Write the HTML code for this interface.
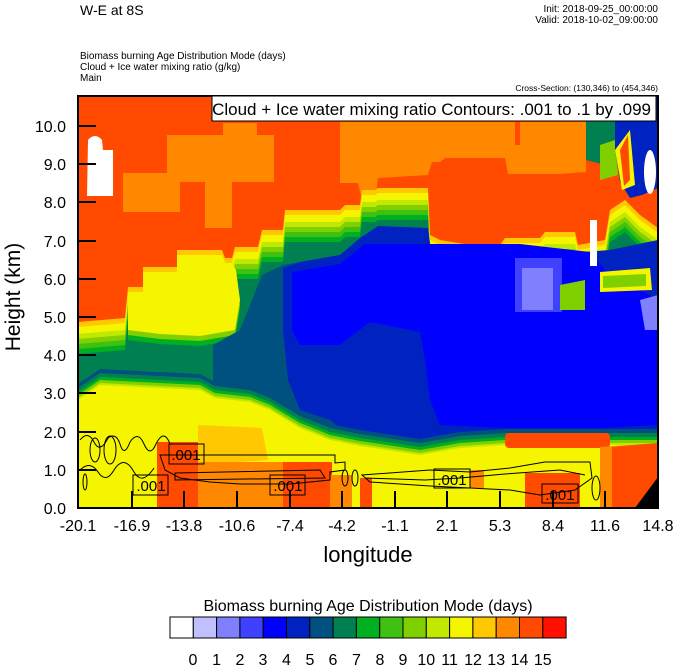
<!DOCTYPE html>
<html><head><meta charset="utf-8"><style>
html,body{margin:0;padding:0;background:#fff;}
svg text{font-family:"Liberation Sans",sans-serif;}
</style></head><body>
<svg width="674" height="667" viewBox="0 0 674 667" xmlns="http://www.w3.org/2000/svg">
<defs>
<clipPath id="pc"><rect x="78" y="96" width="580" height="412"/></clipPath>
<polygon id="U" points="78,322 125,318 128,287 143,287 143,267 177,267 177,250 222,250 225,258 232,258 235,247 258,247 262,230 283,230 285,210 340,210 345,205 360,205 362,190 375,190 378,188 428,188 430,235 440,240 470,245 500,245 505,238 540,238 545,232 575,232 578,245 605,240 610,210 625,200 640,215 658,228 658,508 78,508"/>
<polygon id="B" points="78,400 100,385 200,390 215,398 250,402 270,410 300,428 330,440 360,446 420,455 460,448 505,445 658,445 658,508 78,508"/>
<polygon id="Y" points="128,292 143,292 143,272 177,272 177,255 222,255 225,263 232,263 236,270 240,300 235,330 200,336 160,334 128,330"/>
</defs>
<g clip-path="url(#pc)">
<rect x="78" y="96" width="580" height="412" fill="#ff4a00"/>
<polygon fill="#ff8800" points="123,173 167,173 167,135 223,135 223,123 257,123 257,135 274,135 274,182 232,182 232,228 205,228 205,182 180,182 180,212 123,212"/>
<polygon fill="#ff8800" points="340,122 515,122 515,145 520,145 520,122 586,122 586,172 560,174 508,174 505,158 445,158 440,162 432,162 428,175 378,178 375,200 362,200 358,183 340,183"/>
<use href="#U" fill="#ffc800"/>
<use href="#U" fill="#f5f500" y="5"/>
<use href="#U" fill="#c0e800" y="12"/>
<use href="#U" fill="#80d000" y="17"/>
<use href="#U" fill="#40c010" y="22"/>
<use href="#U" fill="#00b020" y="27"/>
<use href="#U" fill="#008050" y="32"/>
<!-- thick yellow left-middle -->
<use href="#Y" fill="#00b020" y="10"/>
<use href="#Y" fill="#80d000" y="5"/>
<use href="#Y" fill="#f5f500"/>
<polygon fill="#005080" points="213,345 240,330 262,275 283,265 300,262 340,255 360,240 378,228 430,262 500,262 610,255 658,250 658,508 213,508"/>
<polygon fill="#0022c0" points="283,268 300,262 340,255 360,238 378,226 428,228 432,258 500,258 610,250 658,240 658,440 640,430 610,433 506,433 470,435 440,440 420,445 380,440 360,430 345,432 330,420 300,410 288,380 283,330"/>
<polygon fill="#0000ff" points="292,272 340,264 365,244 520,244 590,252 605,270 658,300 658,425 600,428 506,428 440,425 430,400 425,360 420,332 370,322 340,345 300,345 292,330"/>
<polygon fill="#4040ff" points="515,258 562,258 562,312 515,312"/>
<polygon fill="#8080ff" points="522,268 553,268 553,310 522,310"/>
<polygon fill="#8080ff" points="640,300 658,295 658,330 645,330"/>
<polygon fill="#80d000" points="560,285 585,280 585,310 560,310"/>
<polygon fill="#f5f500" points="600,272 650,268 652,290 600,292"/>
<polygon fill="#80d000" points="603,276 646,274 646,286 603,288"/>
<rect x="590" y="220" width="7" height="46" fill="#fff"/>
<polygon fill="#008050" points="586,96 620,96 620,150 605,165 586,160"/>
<polygon fill="#80d000" points="600,145 615,140 618,175 600,180"/>
<polygon fill="#0022c0" points="615,96 658,96 658,188 642,195 630,198 620,182 615,150"/>
<polygon fill="#f5f500" points="615,150 630,130 635,185 622,190"/>
<polygon fill="#ff4a00" points="620,150 628,135 630,180 624,186"/>
<ellipse cx="650" cy="172" rx="6" ry="22" fill="#fff"/>
<!-- bottom yellow region -->
<use href="#B" fill="#005080" y="-16"/>
<use href="#B" fill="#008050" y="-12"/>
<use href="#B" fill="#00b020" y="-8"/>
<use href="#B" fill="#80d000" y="-5"/>
<use href="#B" fill="#c0e800" y="-2"/>
<use href="#B" fill="#f5f500"/>
<polygon fill="#ffc800" points="198,425 262,428 268,460 198,465"/>
<polygon fill="#ff4a00" points="157,442 198,442 198,508 157,508"/>
<polygon fill="#ff8800" points="198,462 285,462 285,508 198,508"/>
<polygon fill="#ff4a00" points="283,462 332,462 332,508 283,508"/>
<polygon fill="#ff8800" points="330,475 352,475 352,508 330,508"/>
<rect x="360" y="478" width="12" height="30" fill="#ff4a00"/>
<rect x="470" y="470" width="14" height="18" fill="#ff8800"/>
<polygon fill="#ff4a00" points="525,473 580,473 580,508 525,508"/>
<rect x="505" y="433" width="105" height="15" rx="4" fill="#ff4a00"/>
<polygon fill="#ff8800" points="600,447 658,443 658,508 600,508"/>
<polygon fill="#ff4a00" points="612,447 658,443 658,508 612,508"/>
<polygon fill="#000" points="635,508 658,477 658,508"/>
<path d="M88,140 Q95,132 102,140 L103,150 L113,150 L113,196 L87,196 Z" fill="#fff"/>
<g fill="none" stroke="#000" stroke-width="1">
<path d="M80,440 q8,-10 14,2 q6,12 14,-4 q8,-6 12,6 q4,14 10,-2 q8,-12 14,2 q6,14 12,0 q8,-16 14,0 M80,470 q10,-10 18,2 q8,12 16,-2 q10,-16 20,2 q8,14 20,-4"/>
<ellipse cx="85" cy="482" rx="2" ry="8"/>
<ellipse cx="95" cy="450" rx="5" ry="12"/>
<ellipse cx="110" cy="450" rx="6" ry="14"/>
<path d="M160,455 L335,455 L335,463 L345,462 L345,470 L330,472 L330,480 L290,484 L240,484 L210,482 L180,478 L165,470 Z"/>
<path d="M175,473 L320,470 L325,478 L175,480 Z"/>
<path d="M362,475 L430,470 L470,472 L510,468 L545,462 L590,462 L592,478 L575,490 L540,495 L510,490 L470,488 L430,486 L370,482 Z"/>
<path d="M365,478 L425,480 L460,478 L505,474 L560,470 L585,475"/>
<ellipse cx="596" cy="488" rx="4" ry="12"/>
<ellipse cx="345" cy="478" rx="3" ry="8"/>
<ellipse cx="355" cy="478" rx="3" ry="8"/>
</g>
</g>
<g font-size="15" text-anchor="middle">
<rect x="169" y="444" width="35" height="20" fill="none" stroke="#000"/><text x="186" y="460">.001</text>
<rect x="133" y="475" width="35" height="20" fill="none" stroke="#000"/><text x="151" y="491">.001</text>
<rect x="270" y="475" width="35" height="20" fill="none" stroke="#000"/><text x="288" y="491">.001</text>
<rect x="434" y="469" width="36" height="19" fill="none" stroke="#000"/><text x="452" y="485">.001</text>
<rect x="542" y="484" width="36" height="19" fill="none" stroke="#000"/><text x="560" y="500">.001</text>
</g>
<rect x="78" y="96" width="580" height="412" fill="none" stroke="#000" stroke-width="2"/>
<g stroke="#000" stroke-width="2">
<line x1="78" y1="126" x2="96" y2="126"/><line x1="78" y1="164" x2="96" y2="164"/><line x1="78" y1="202" x2="96" y2="202"/><line x1="78" y1="241" x2="96" y2="241"/><line x1="78" y1="279" x2="96" y2="279"/><line x1="78" y1="317" x2="96" y2="317"/><line x1="78" y1="355" x2="96" y2="355"/><line x1="78" y1="393" x2="96" y2="393"/><line x1="78" y1="432" x2="96" y2="432"/><line x1="78" y1="470" x2="96" y2="470"/>
<line x1="132" y1="508" x2="132" y2="491"/><line x1="184" y1="508" x2="184" y2="491"/><line x1="237" y1="508" x2="237" y2="491"/><line x1="290" y1="508" x2="290" y2="491"/><line x1="342" y1="508" x2="342" y2="491"/><line x1="395" y1="508" x2="395" y2="491"/><line x1="447" y1="508" x2="447" y2="491"/><line x1="500" y1="508" x2="500" y2="491"/><line x1="553" y1="508" x2="553" y2="491"/><line x1="605" y1="508" x2="605" y2="491"/>
</g>
<rect x="212" y="96" width="444" height="25" fill="#fff" stroke="#000" stroke-width="1"/>
<text x="651" y="115" font-size="17" text-anchor="end">Cloud + Ice water mixing ratio Contours: .001 to .1 by .099</text>
<g font-size="16" text-anchor="end">
<text x="66" y="132">10.0</text><text x="66" y="170">9.0</text><text x="66" y="208">8.0</text><text x="66" y="247">7.0</text><text x="66" y="285">6.0</text><text x="66" y="323">5.0</text><text x="66" y="361">4.0</text><text x="66" y="399">3.0</text><text x="66" y="438">2.0</text><text x="66" y="476">1.0</text><text x="66" y="514">0.0</text>
</g>
<g font-size="16" text-anchor="middle">
<text x="78" y="531">-20.1</text><text x="132" y="531">-16.9</text><text x="184" y="531">-13.8</text><text x="237" y="531">-10.6</text><text x="290" y="531">-7.4</text><text x="342" y="531">-4.2</text><text x="395" y="531">-1.1</text><text x="447" y="531">2.1</text><text x="500" y="531">5.3</text><text x="553" y="531">8.4</text><text x="605" y="531">11.6</text><text x="658" y="531">14.8</text>
</g>
<text x="368" y="562" font-size="22" text-anchor="middle">longitude</text>
<text transform="translate(20,297) rotate(-90)" font-size="21" text-anchor="middle">Height (km)</text>
<text x="80" y="15" font-size="14">W-E at 8S</text>
<g font-size="10" text-anchor="end"><text x="658" y="12">Init: 2018-09-25_00:00:00</text><text x="658" y="23">Valid: 2018-10-02_09:00:00</text><text x="658" y="91" font-size="8.5">Cross-Section: (130,346) to (454,346)</text></g>
<g font-size="10"><text x="80" y="59">Biomass burning Age Distribution Mode   (days)</text><text x="80" y="70">Cloud + Ice water mixing ratio   (g/kg)</text><text x="80" y="81">Main</text></g>
<text x="368" y="611" font-size="16" text-anchor="middle">Biomass burning Age Distribution Mode  (days)</text>
<g stroke="#000" stroke-width="1">
<rect x="170" y="617" width="23.3" height="21" fill="#fff"/>
<rect x="193.3" y="617" width="23.3" height="21" fill="#c0c0ff"/>
<rect x="216.6" y="617" width="23.3" height="21" fill="#8080ff"/>
<rect x="239.9" y="617" width="23.3" height="21" fill="#4040ff"/>
<rect x="263.2" y="617" width="23.3" height="21" fill="#0000ff"/>
<rect x="286.5" y="617" width="23.3" height="21" fill="#0022c0"/>
<rect x="309.8" y="617" width="23.3" height="21" fill="#005080"/>
<rect x="333.1" y="617" width="23.3" height="21" fill="#008050"/>
<rect x="356.4" y="617" width="23.3" height="21" fill="#00b020"/>
<rect x="379.7" y="617" width="23.3" height="21" fill="#40c010"/>
<rect x="403" y="617" width="23.3" height="21" fill="#80d000"/>
<rect x="426.3" y="617" width="23.3" height="21" fill="#c0e800"/>
<rect x="449.6" y="617" width="23.3" height="21" fill="#f5f500"/>
<rect x="472.9" y="617" width="23.3" height="21" fill="#ffc800"/>
<rect x="496.2" y="617" width="23.3" height="21" fill="#ff8800"/>
<rect x="519.5" y="617" width="23.3" height="21" fill="#ff4a00"/>
<rect x="542.8" y="617" width="23.3" height="21" fill="#ff1000"/>
</g>
<g font-size="16" text-anchor="middle">
<text x="193" y="665">0</text><text x="216.6" y="665">1</text><text x="240" y="665">2</text><text x="263" y="665">3</text><text x="286.5" y="665">4</text><text x="310" y="665">5</text><text x="333" y="665">6</text><text x="356.4" y="665">7</text><text x="380" y="665">8</text><text x="403" y="665">9</text><text x="426.3" y="665">10</text><text x="449.6" y="665">11</text><text x="473" y="665">12</text><text x="496.2" y="665">13</text><text x="519.5" y="665">14</text><text x="542.8" y="665">15</text>
</g>
</svg>
</body></html>
